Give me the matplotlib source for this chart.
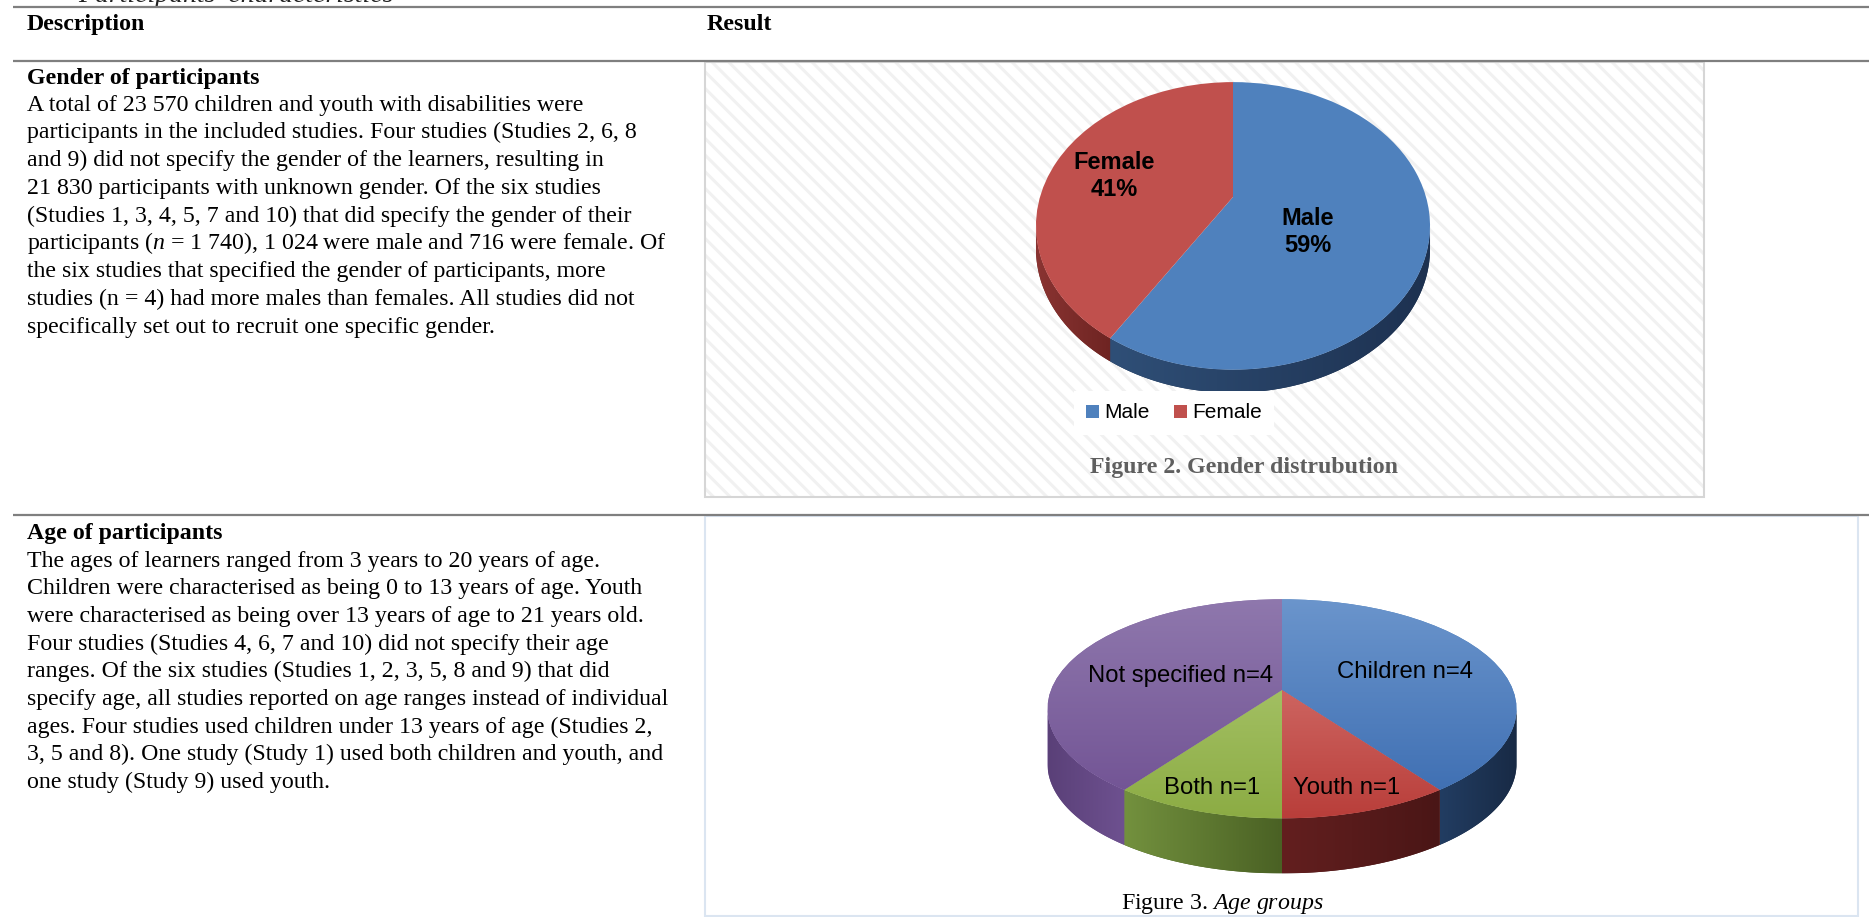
import numpy as np
import matplotlib
matplotlib.use("Agg")
import matplotlib.pyplot as plt
import matplotlib.transforms as mtransforms
from matplotlib.patches import Rectangle, PathPatch
from matplotlib.path import Path
from matplotlib.colors import to_rgb

# ---------------- data ----------------
gender_labels = ["Male", "Female"]
gender_counts = [1024, 716]

age_labels = ["Children", "Youth", "Both", "Not specified"]
age_counts = [4, 1, 1, 4]

column_titles = ["Description", "Result"]
table_title = "Participants' characteristics"

gender_heading = "Gender of participants"
gender_lines = [
    "A total of 23 570 children and youth with disabilities were",
    "participants in the included studies. Four studies (Studies 2, 6, 8",
    "and 9) did not specify the gender of the learners, resulting in",
    "21 830 participants with unknown gender. Of the six studies",
    "(Studies 1, 3, 4, 5, 7 and 10) that did specify the gender of their",
    r"participants ($\mathit{n}$ = 1 740), 1 024 were male and 716 were female. Of",
    "the six studies that specified the gender of participants, more",
    "studies (n = 4) had more males than females. All studies did not",
    "specifically set out to recruit one specific gender.",
]

age_heading = "Age of participants"
age_lines = [
    "The ages of learners ranged from 3 years to 20 years of age.",
    "Children were characterised as being 0 to 13 years of age. Youth",
    "were characterised as being over 13 years of age to 21 years old.",
    "Four studies (Studies 4, 6, 7 and 10) did not specify their age",
    "ranges. Of the six studies (Studies 1, 2, 3, 5, 8 and 9) that did",
    "specify age, all studies reported on age ranges instead of individual",
    "ages. Four studies used children under 13 years of age (Studies 2,",
    "3, 5 and 8). One study (Study 1) used both children and youth, and",
    "one study (Study 9) used youth.",
]

fig2_caption = "Figure 2. Gender distrubution"
fig3_caption = r"Figure 3. $\mathit{Age\ groups}$"

# ---------------- styling ----------------
W, H = 1869, 917
SERIF = "Liberation Serif"
SANS = "Liberation Sans"
BODY = 17.2

plt.rcParams["mathtext.fontset"] = "custom"
plt.rcParams["mathtext.rm"] = SERIF
plt.rcParams["mathtext.it"] = SERIF + ":italic"
plt.rcParams["hatch.linewidth"] = 2.2

fig = plt.figure(figsize=(W / 100, H / 100), dpi=100, facecolor="white")
ax = fig.add_axes([0, 0, 1, 1])


def reset_view():
    ax.set_aspect("auto")
    ax.set_xlim(0, W)
    ax.set_ylim(H, 0)
    ax.axis("off")


reset_view()


class Tilt(mtransforms.Transform):
    """Perspective view of a unit disc lying flat: far side shrinks."""
    input_dims = output_dims = 2
    is_separable = False
    has_inverse = False

    def __init__(self, cx, cy, rx, ry, k):
        super().__init__()
        self.cx, self.cy, self.rx, self.ry, self.k = cx, cy, rx, ry, k

    def transform_non_affine(self, values):
        values = np.asarray(values, dtype=float)
        u, v = values[:, 0], values[:, 1]
        w = 1.0 + self.k * v
        return np.column_stack([self.cx + self.rx * u / w,
                                self.cy - self.ry * v / w])


def gradient(clip, extent, c_start, c_end, horizontal, z):
    c0, c1 = np.array(to_rgb(c_start)), np.array(to_rgb(c_end))
    s = np.linspace(0, 1, 256)[:, None]
    g = c0 * (1 - s) + c1 * s
    img = g[None, :, :] if horizontal else g[:, None, :]
    x0, x1, y0, y1 = extent
    im = ax.imshow(img, extent=(x0, x1, y1, y0), origin="upper",
                   aspect="auto", interpolation="bilinear", zorder=z)
    im.set_clip_path(clip)


def pie3d(values, tilt, depth, top_colors, side_colors, top_shades=None):
    wedges, _ = ax.pie(values, startangle=90, counterclock=False,
                       colors=top_colors,
                       wedgeprops=dict(linewidth=0, zorder=3))
    reset_view()
    for w in wedges:
        w.set_transform(tilt + ax.transData)
    # visible side wall under each slice
    for w, (cl, cr) in zip(wedges, side_colors):
        t = np.radians(np.linspace(w.theta1, w.theta2, 600))
        t = t[np.sin(t) <= -tilt.k]
        if t.size < 2:
            continue
        top = tilt.transform(np.column_stack([np.cos(t), np.sin(t)]))
        top = top[np.argsort(top[:, 0])]
        bot = top[::-1] + np.array([0, depth])
        band = PathPatch(Path(np.vstack([top, bot])), facecolor=cr,
                         edgecolor="none", zorder=2)
        ax.add_patch(band)
        gradient(band, (top[:, 0].min(), top[:, 0].max(),
                        top[:, 1].min(), bot[:, 1].max()),
                 cl, cr, True, 2.1)
    if top_shades is not None:
        ang = np.linspace(0, 2 * np.pi, 400)
        face = tilt.transform(np.column_stack([np.cos(ang), np.sin(ang)]))
        ext = (face[:, 0].min(), face[:, 0].max(),
               face[:, 1].min(), face[:, 1].max())
        for w, (ct, cb) in zip(wedges, top_shades):
            gradient(w, ext, ct, cb, False, 3.1)
    reset_view()
    return wedges


# ---------------- table frame ----------------
rule = dict(color="#7f7f7f", linewidth=1.6, solid_capstyle="butt", zorder=4)
ax.plot([13, W], [7, 7], **rule)
ax.plot([13, W], [60.5, 60.5], **rule)
ax.plot([13, W], [514.5, 514.5], **rule)

ax.text(78, 1.5, table_title, family=SERIF, style="italic", fontsize=20,
        va="baseline", ha="left", color="#222222")
ax.text(27, 30, column_titles[0], family=SERIF, weight="bold",
        fontsize=BODY, va="baseline")
ax.text(707, 30, column_titles[1], family=SERIF, weight="bold",
        fontsize=BODY, va="baseline")

# ---------------- description text ----------------
ax.text(27, 84, gender_heading, family=SERIF, weight="bold",
        fontsize=BODY, va="baseline")
for i, line in enumerate(gender_lines):
    ax.text(27, 110.5 + 27.8 * i, line, family=SERIF, fontsize=BODY,
            va="baseline")

ax.text(27, 539, age_heading, family=SERIF, weight="bold",
        fontsize=BODY, va="baseline")
for i, line in enumerate(age_lines):
    ax.text(27, 566.5 + 27.7 * i, line, family=SERIF, fontsize=BODY,
            va="baseline")

# ---------------- panel backgrounds ----------------
ax.add_patch(Rectangle((705, 62), 999, 435, facecolor="white",
                       edgecolor="#f1f1f1", hatch="\\\\", linewidth=0,
                       zorder=0.5))
ax.add_patch(Rectangle((705, 62), 999, 435, fill=False,
                       edgecolor="#d6d6d6", linewidth=1.5, zorder=0.6))
ax.add_patch(Rectangle((705, 516), 1153, 400, facecolor="white",
                       edgecolor="#dbe5f1", linewidth=1.5, zorder=0.5))

# ---------------- Figure 2: gender pie ----------------
tilt1 = Tilt(1233, 197, 193, 138, 0.201)
g_wedges = pie3d(gender_counts, tilt1, 23,
                 top_colors=["#4f81bd", "#c0504d"],
                 side_colors=[("#2f4f77", "#1d3150"),
                              ("#8a3432", "#6e2422")])

g_total = sum(gender_counts)
g_pct = [round(100 * c / g_total) for c in gender_counts]
g_label_pos = [(1308, 232), (1114, 176)]
for (x, y), name, p in zip(g_label_pos, gender_labels, g_pct):
    ax.text(x, y, f"{name}\n{p}%", family=SANS, weight="bold",
            fontsize=17, ha="center", va="center", linespacing=1.18,
            zorder=5)

leg = ax.legend(g_wedges, gender_labels, loc="center",
                bbox_to_anchor=(1174, 413), bbox_transform=ax.transData,
                ncol=2, frameon=True, fancybox=False, framealpha=1,
                facecolor="white", edgecolor="none",
                prop=dict(family=SANS, size=15), handlelength=0.6,
                handleheight=0.6, handletextpad=0.25, columnspacing=1.2,
                borderpad=0.6)
leg.set_zorder(5)

ax.text(1244, 467, fig2_caption, family=SERIF, weight="bold",
        fontsize=BODY, color="#5f5f5f", ha="center", va="center", zorder=5)

# ---------------- Figure 3: age pie ----------------
tilt2 = Tilt(1282, 690, 231, 106.3, 0.172)
pie3d(age_counts, tilt2, 55,
      top_colors=["#4f81bd", "#c0504d", "#9bbb59", "#8064a2"],
      side_colors=[("#223d62", "#182a45"),
                   ("#631f1f", "#4a1616"),
                   ("#73913e", "#4a6124"),
                   ("#5a4078", "#6e5190")],
      top_shades=[("#6b95cc", "#3a6bb0"),
                  ("#dc807c", "#b93e3a"),
                  ("#b2cd78", "#8cac44"),
                  ("#8f78ad", "#6f5092")])

a_label_pos = [(1405, 672), (1347, 788), (1212, 788), (1181, 676)]
for (x, y), name, n in zip(a_label_pos, age_labels, age_counts):
    ax.text(x, y, f"{name} n={n}", family=SANS, fontsize=17.2,
            ha="center", va="center", zorder=5)

ax.text(1222, 904, fig3_caption, family=SERIF, fontsize=BODY,
        ha="center", va="center", zorder=5)

reset_view()
fig.savefig("out.png", dpi=100, facecolor="white")
